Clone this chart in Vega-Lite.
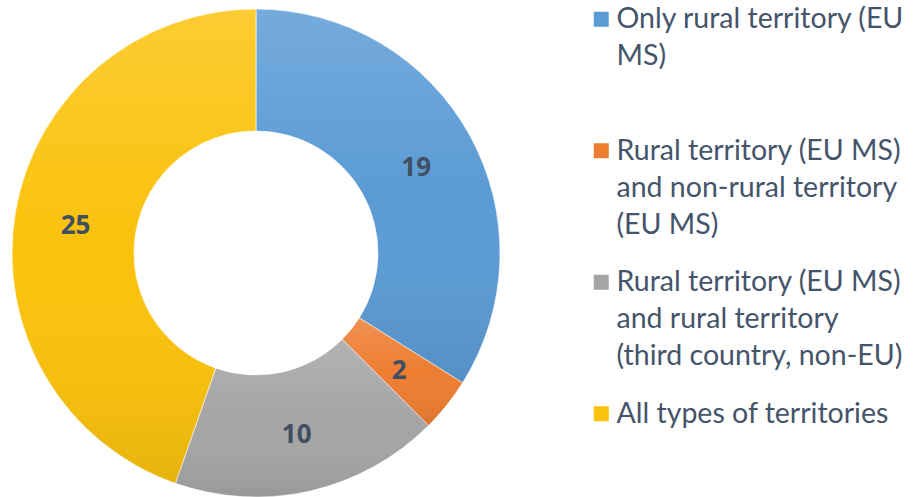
{
  "$schema": "https://vega.github.io/schema/vega-lite/v6.json",
  "width": 512,
  "height": 506,
  "autosize": {"type": "none"},
  "padding": {"left": 0, "top": 0, "right": 401, "bottom": 0},
  "background": "white",
  "config": {"view": {"stroke": null}, "style": {"guide-label": {"lineHeight": 37}}},
  "data": {
    "values": [
      {"cat": "Only rural territory (EU|MS)", "value": 19, "order": 1},
      {"cat": "Rural territory (EU MS)|and non-rural territory|(EU MS)", "value": 2, "order": 2},
      {"cat": "Rural territory (EU MS)|and rural territory|(third country, non-EU)", "value": 10, "order": 3},
      {"cat": "All types of territories", "value": 25, "order": 4}
    ]
  },
  "layer": [
    {
      "mark": {"type": "arc", "innerRadius": 122, "outerRadius": 244, "stroke": "white", "strokeWidth": 0.6},
      "encoding": {
        "theta": {"field": "value", "type": "quantitative", "stack": true},
        "order": {"field": "order", "type": "quantitative"},
        "color": {
          "field": "cat",
          "type": "nominal",
          "sort": null,
          "scale": {
            "domain": [
              "Only rural territory (EU|MS)",
              "Rural territory (EU MS)|and non-rural territory|(EU MS)",
              "Rural territory (EU MS)|and rural territory|(third country, non-EU)",
              "All types of territories"
            ],
            "range": ["#5b9bd5", "#ed7d31", "#a5a5a5", "#fbc20c"]
          },
          "legend": {
            "orient": "none",
            "legendX": 587,
            "legendY": 5,
            "padding": 0,
            "title": null,
            "symbolType": "square",
            "symbolSize": 225,
            "symbolStrokeWidth": 0,
            "labelFont": "Lato",
            "labelFontSize": 28.5,
            "labelColor": "#44546a",
            "labelExpr": "split(datum.label, '|')",
            "labelBaseline": "middle",
            "labelLimit": 400,
            "labelOffset": 1,
            "gridAlign": "all",
            "rowPadding": 28.5
          }
        }
      }
    },
    {
      "mark": {
        "type": "arc",
        "innerRadius": 122,
        "outerRadius": 244,
        "fill": {
          "gradient": "linear",
          "x1": 0, "y1": 0, "x2": 0, "y2": 1,
          "stops": [
            {"offset": 0, "color": "rgba(255,255,255,0.16)"},
            {"offset": 0.5, "color": "rgba(255,255,255,0)"},
            {"offset": 1, "color": "rgba(0,0,0,0.08)"}
          ]
        }
      },
      "encoding": {
        "theta": {"field": "value", "type": "quantitative", "stack": true},
        "order": {"field": "order", "type": "quantitative"},
        "detail": {"field": "cat", "type": "nominal"}
      }
    },
    {
      "mark": {"type": "text", "radius": 183, "dy": 4, "font": "Open Sans", "fontWeight": "bold", "fontSize": 26, "fill": "#404f62"},
      "encoding": {
        "theta": {"field": "value", "type": "quantitative", "stack": true},
        "order": {"field": "order", "type": "quantitative"},
        "detail": {"field": "cat", "type": "nominal"},
        "text": {"field": "value", "type": "quantitative"}
      }
    }
  ]
}
